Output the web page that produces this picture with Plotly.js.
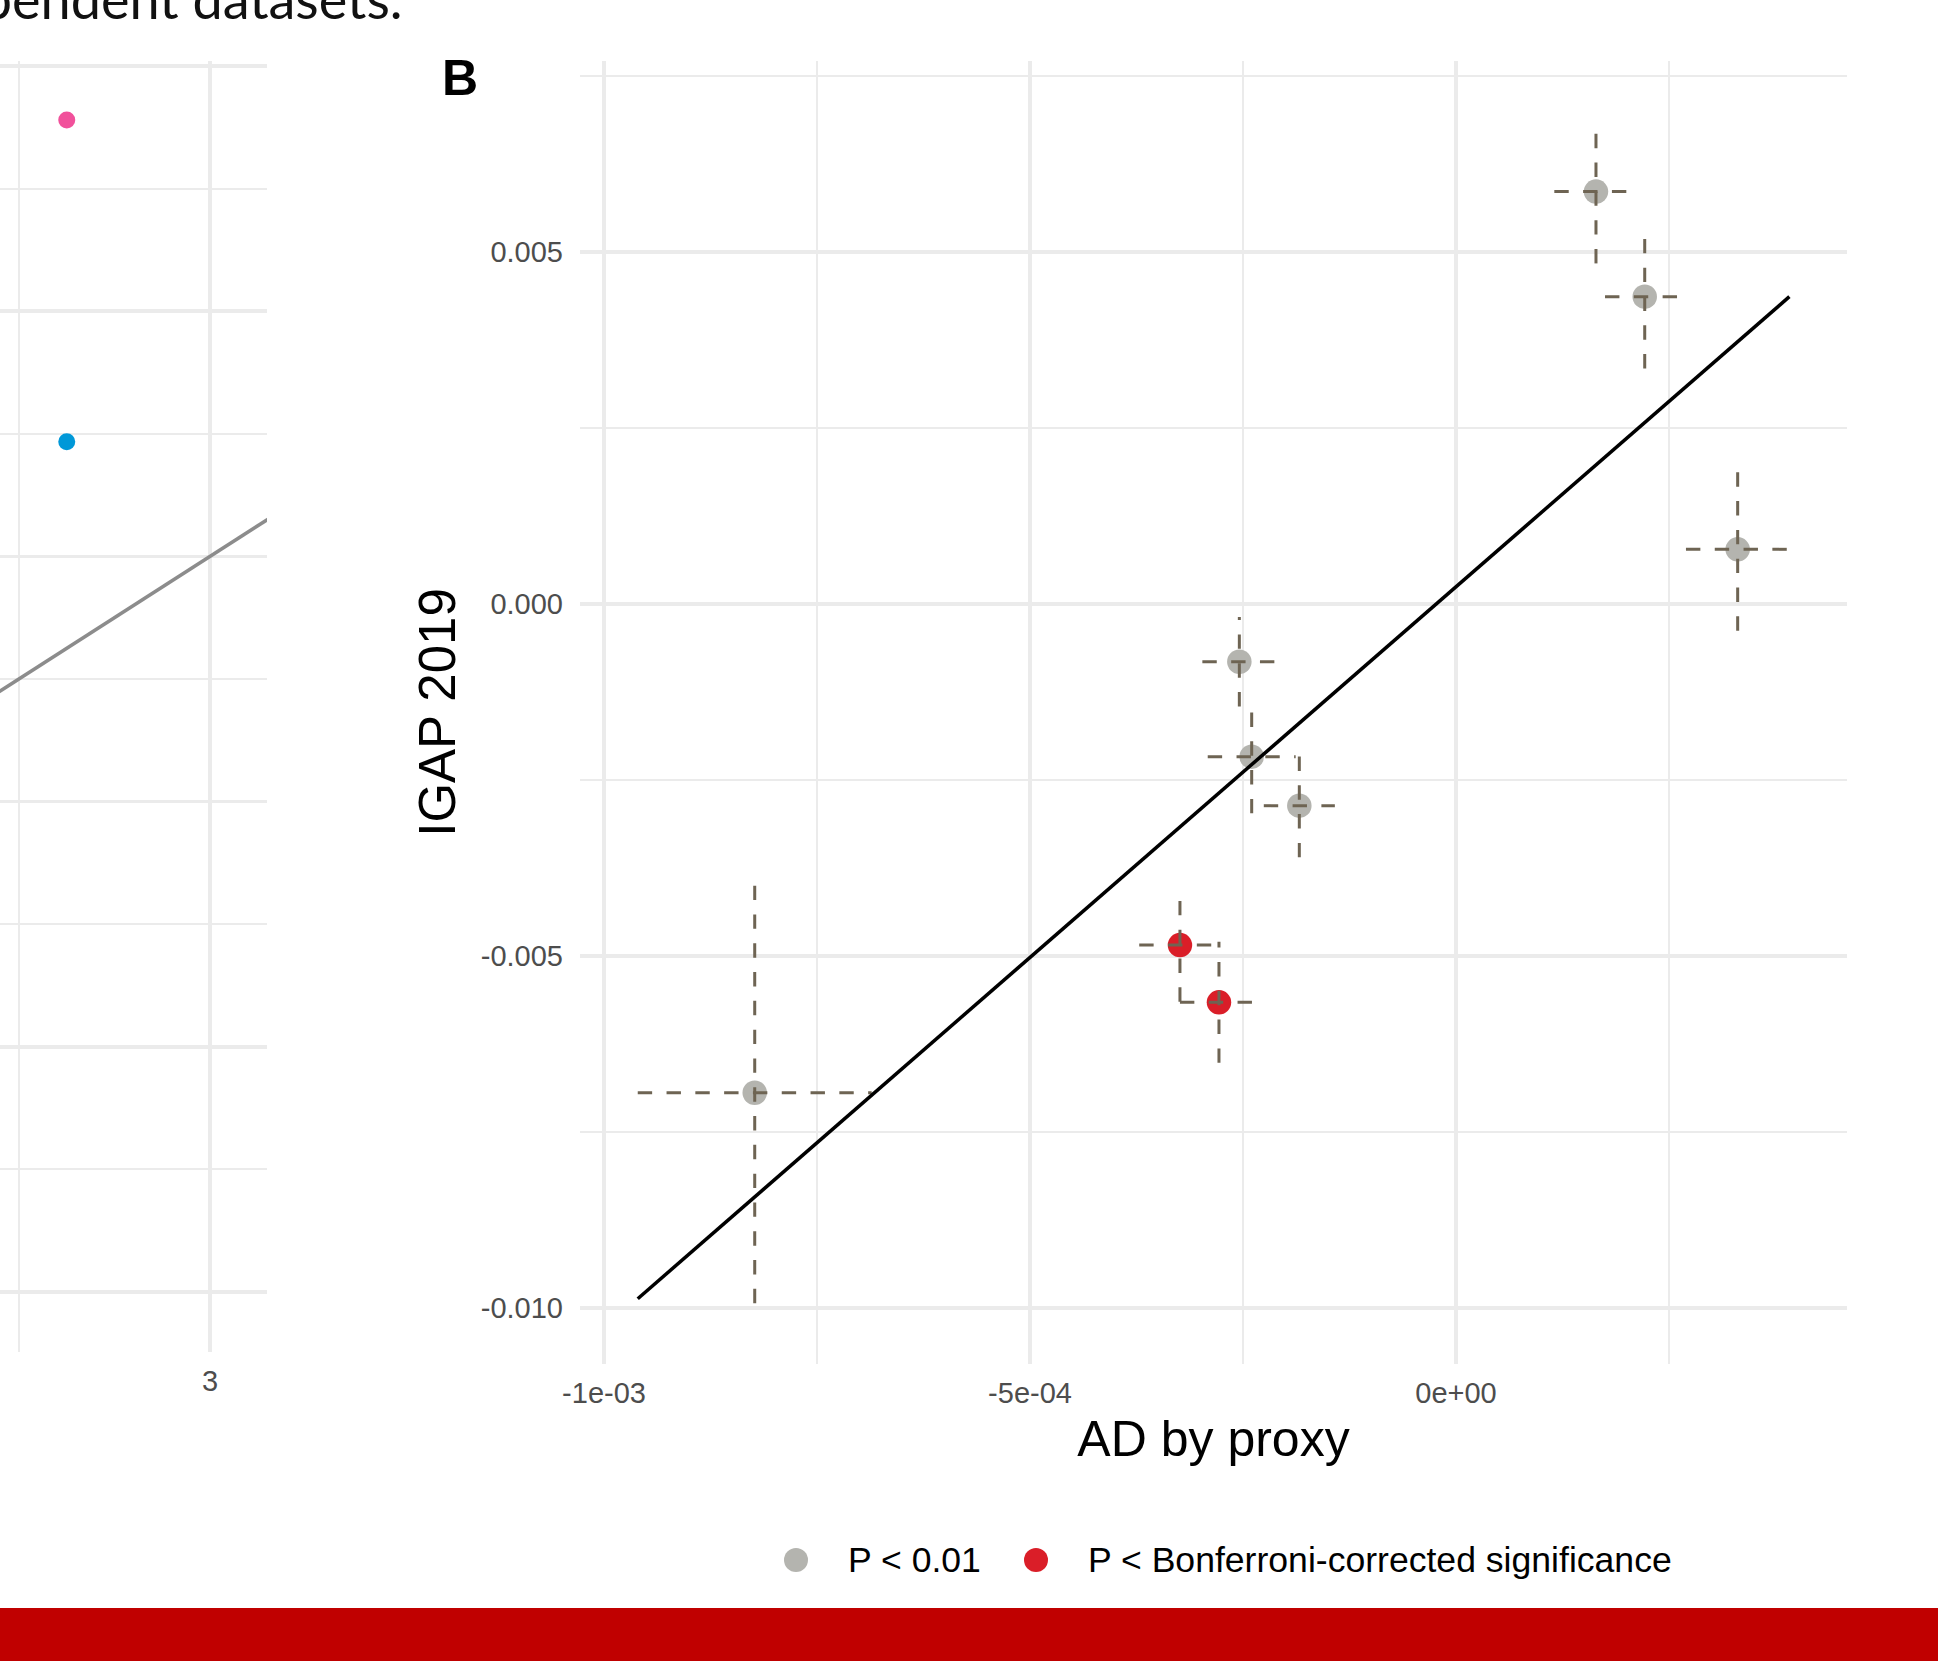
<!DOCTYPE html>
<html><head><meta charset="utf-8">
<script src="https://cdn.plot.ly/plotly-3.0.1.min.js"></script>
<style>html,body{margin:0;padding:0;background:#fff;overflow:hidden}</style>
</head><body>
<div id="chart" style="width:1938px;height:1661px"></div>
<script>
// ---- Panel B data (AD by proxy vs IGAP 2019) ----
const adProxy    = [1.643e-4, 2.215e-4, 3.306e-4, -2.543e-4, -2.398e-4, -1.839e-4, -3.24e-4, -2.782e-4, -8.231e-4];
const adProxySE  = [0.489e-4, 0.466e-4, 0.607e-4, 0.434e-4, 0.516e-4, 0.417e-4, 0.478e-4, 0.458e-4, 1.373e-4];
const igap       = [0.005858, 0.004365, 0.000777, -0.00082, -0.002169, -0.002865, -0.004844, -0.005658, -0.006942];
const igapSE     = [0.00102, 0.00102, 0.001156, 0.000635, 0.000804, 0.000733, 0.000805, 0.000859, 0.00299];
const sigGroup   = ["P < 0.01","P < 0.01","P < 0.01","P < 0.01","P < 0.01","P < 0.01",
                    "P < Bonferroni-corrected significance","P < Bonferroni-corrected significance","P < 0.01"];
const groupNames = ["P < 0.01", "P < Bonferroni-corrected significance"];
const fitSlope = 10.53;
const fitIntercept = 0.000245;

const xTickVals = [-1e-3, -5e-4, 0];
const xTickText = ["-1e-03", "-5e-04", "0e+00"];
const xMinorVals = [-7.5e-4, -2.5e-4, 2.5e-4];
const yTickVals = [-0.010, -0.005, 0.000, 0.005];
const yTickText = ["-0.010", "-0.005", "0.000", "0.005"];
const yMinorVals = [-0.0075, -0.0025, 0.0025, 0.0075];

// ---- Panel A (partially visible) data ----
const panelAX = [2.625, 2.625];
const panelAY = [4.780, 3.468];
const panelAColors = ["#F1519B", "#0098D8"];
const panelAIdentity = [2, 4];   // y = x reference line
const panelAXTickVals = [3];
const panelAXTickText = ["3"];

// ---- style ----
const FONT = "Liberation Sans, Arial, Helvetica, sans-serif";
const GRID = "#EBEBEB";
const groupColors = {"P < 0.01": "#B4B4AF", "P < Bonferroni-corrected significance": "#DA1E28"};
const errColor = "#6E6453";

// error bar segments (drawn from the low end to the high end)
const vx = [], vy = [], hx = [], hy = [];
for (let i = 0; i < adProxy.length; i++) {
  vx.push(adProxy[i], adProxy[i], null);
  vy.push(igap[i] - igapSE[i], igap[i] + igapSE[i], null);
  hx.push(adProxy[i] - adProxySE[i], adProxy[i] + adProxySE[i], null);
  hy.push(igap[i], igap[i], null);
}
const xLo = Math.min(...adProxy.map((v, i) => v - adProxySE[i]));
const xHi = Math.max(...adProxy.map((v, i) => v + adProxySE[i]));

const traces = [];
groupNames.forEach(g => {
  const idx = sigGroup.map((s, i) => s === g ? i : -1).filter(i => i >= 0);
  traces.push({
    type: "scatter", mode: "markers", name: g, xaxis: "x", yaxis: "y",
    x: idx.map(i => adProxy[i]), y: idx.map(i => igap[i]),
    marker: {size: 24.5, color: groupColors[g]}, showlegend: false, hoverinfo: "x+y"
  });
});
traces.push({type: "scatter", mode: "lines", x: vx, y: vy, xaxis: "x", yaxis: "y",
  line: {color: errColor, width: 3, dash: "14.4px,14.4px"}, connectgaps: false, showlegend: false, hoverinfo: "skip"});
traces.push({type: "scatter", mode: "lines", x: hx, y: hy, xaxis: "x", yaxis: "y",
  line: {color: errColor, width: 3, dash: "14.4px,14.4px"}, connectgaps: false, showlegend: false, hoverinfo: "skip"});
traces.push({type: "scatter", mode: "lines", x: [xLo, xHi],
  y: [fitIntercept + fitSlope * xLo, fitIntercept + fitSlope * xHi], xaxis: "x", yaxis: "y",
  line: {color: "#000", width: 3.5}, showlegend: false, hoverinfo: "skip"});

// panel A
traces.push({type: "scatter", mode: "lines", x: panelAIdentity, y: panelAIdentity, xaxis: "x2", yaxis: "y2",
  line: {color: "#8C8C8C", width: 3.5}, showlegend: false, hoverinfo: "skip"});
traces.push({type: "scatter", mode: "markers", x: panelAX, y: panelAY, xaxis: "x2", yaxis: "y2",
  marker: {size: 17, color: panelAColors}, showlegend: false});

const W = 1938, H = 1661;
const px = v => v / W, py = v => 1 - v / H;

const layout = {
  width: W, height: H, margin: {l: 0, r: 0, t: 0, b: 0},
  paper_bgcolor: "#fff", plot_bgcolor: "#fff", showlegend: false,
  font: {family: FONT, color: "#000"},
  xaxis: {
    domain: [px(580), px(1847)], anchor: "y", range: [-1.02817e-3, 4.5892e-4],
    tickmode: "array", tickvals: xTickVals, ticktext: xTickText,
    showgrid: true, gridcolor: GRID, gridwidth: 3.5, zeroline: false, showline: false, ticks: "",
    tickfont: {size: 29, color: "#4D4D4D", family: FONT}, ticklabelstandoff: 9,
    minor: {tickmode: "array", tickvals: xMinorVals, showgrid: true, gridcolor: GRID, gridwidth: 2, ticks: ""},
    title: {text: "AD by proxy", font: {size: 50, color: "#000", family: FONT}, standoff: 12}
  },
  yaxis: {
    domain: [py(1364), py(61)], anchor: "x", range: [-0.010795, 0.007713],
    tickmode: "array", tickvals: yTickVals, ticktext: yTickText,
    showgrid: true, gridcolor: GRID, gridwidth: 3.5, zeroline: false, showline: false, ticks: "",
    tickfont: {size: 29, color: "#4D4D4D", family: FONT}, ticklabelstandoff: 16,
    minor: {tickmode: "array", tickvals: yMinorVals, showgrid: true, gridcolor: GRID, gridwidth: 2, ticks: ""},
    title: {text: "IGAP 2019", font: {size: 51, color: "#000", family: FONT}, standoff: 8}
  },
  xaxis2: {
    domain: [0, px(267)], anchor: "y2", range: [2.45026, 3.14921],
    tickmode: "array", tickvals: panelAXTickVals, ticktext: panelAXTickText,
    showgrid: true, gridcolor: GRID, gridwidth: 3.5, zeroline: false, showline: false, ticks: "",
    tickfont: {size: 29, color: "#4D4D4D", family: FONT}, ticklabelstandoff: 9,
    minor: {tickmode: "linear", tick0: 0, dtick: 0.5, showgrid: true, gridcolor: GRID, gridwidth: 2, ticks: ""}
  },
  yaxis2: {
    domain: [py(1352), py(61)], anchor: "x2", range: [-0.2447, 5.0204],
    tickmode: "linear", tick0: 0, dtick: 1, showticklabels: false,
    showgrid: true, gridcolor: GRID, gridwidth: 3.5, zeroline: false, showline: false, ticks: "",
    minor: {tickmode: "linear", tick0: 0, dtick: 0.5, showgrid: true, gridcolor: GRID, gridwidth: 2, ticks: ""}
  },
  shapes: [
    {type: "rect", xref: "paper", yref: "paper", x0: 0, x1: 1, y0: py(1661), y1: py(1608),
     fillcolor: "#C00000", line: {width: 0}, layer: "above"},
    {type: "circle", xref: "paper", yref: "paper", x0: px(784), x1: px(808), y0: py(1572), y1: py(1548),
     fillcolor: groupColors["P < 0.01"], line: {width: 0}},
    {type: "circle", xref: "paper", yref: "paper", x0: px(1024), x1: px(1048), y0: py(1572), y1: py(1548),
     fillcolor: groupColors["P < Bonferroni-corrected significance"], line: {width: 0}}
  ],
  annotations: [
    {text: "B", xref: "paper", yref: "paper", x: px(460), y: py(78), xanchor: "center", yanchor: "middle",
     showarrow: false, font: {size: 50, family: FONT, color: "#000", weight: "bold"}},
    {text: groupNames[0], xref: "paper", yref: "paper", x: px(846), y: py(1560), xanchor: "left", yanchor: "middle",
     showarrow: false, font: {size: 35.6, family: FONT, color: "#000"}},
    {text: groupNames[1], xref: "paper", yref: "paper", x: px(1086), y: py(1560), xanchor: "left", yanchor: "middle",
     showarrow: false, font: {size: 35.6, family: FONT, color: "#000"}},
    {text: "independent datasets.", xref: "paper", yref: "paper", x: px(405), y: py(33), xanchor: "right", yanchor: "bottom",
     showarrow: false, font: {size: 54, family: "Lato, 'Source Sans Pro', sans-serif", color: "#111"}}
  ]
};

Plotly.newPlot("chart", traces, layout, {staticPlot: true, displayModeBar: false});
</script>
</body></html>
